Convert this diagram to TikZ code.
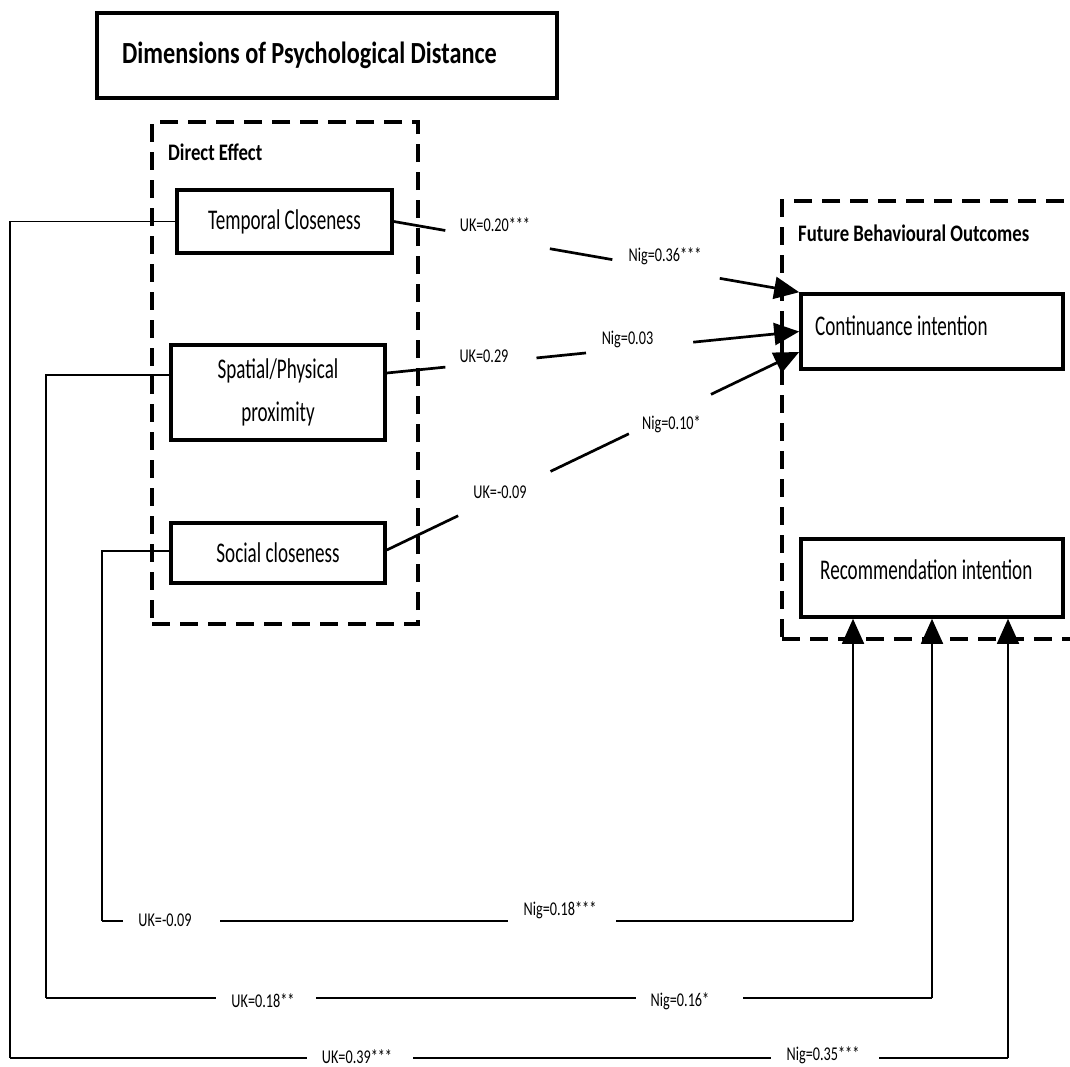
\documentclass[tikz,border=0pt]{standalone}
\usepackage{fontspec}
\setmainfont{Carlito}
\newfontfamily\titlefont[FakeStretch=0.79]{Carlito}
\newfontfamily\boxfont[FakeStretch=0.67]{Carlito}
\newfontfamily\labfont[FakeStretch=0.73]{Carlito}
\usetikzlibrary{arrows.meta,calc}

\begin{document}
\begin{tikzpicture}[x=1pt,y=-1pt,
  boxframe/.style={draw, line width=3.6pt, inner sep=0pt},
  zone/.style={draw, line width=3.2pt, dash pattern=on 18pt off 10pt, inner sep=0pt},
  boxtext/.style={font=\boxfont\fontsize{28.5}{43}\selectfont},
  head/.style={font=\titlefont\bfseries\fontsize{23.7}{28}\selectfont, anchor=base west, inner sep=0pt},
  est/.style={font=\labfont\fontsize{19.5}{22}\selectfont, anchor=base, inner sep=0pt},
  conn/.style={line width=2.7pt},
  wire/.style={line width=1.8pt},
  busline/.style={line width=2.6pt},
  headtip/.style={-{Triangle[length=25pt,width=22pt]}},
]
\useasboundingbox (0,0) rectangle (1070,1066);
\fill[white] (0,0) rectangle (1070,1066);
\clip (0,0) rectangle (1070,1066);

% dashed groupings
\node[zone, minimum width=266pt, minimum height=502pt] (de) at (285,373) {};
\node[zone, minimum width=300pt, minimum height=438pt] (fb) at (932,420) {};

% title
\node[boxframe, minimum width=460pt, minimum height=85pt] (title) at (327,55.5) {};
\node[head, font=\titlefont\bfseries\fontsize{30.7}{36}\selectfont] (tt) at (122,63) {Dimensions of Psychological Distance};

% group headings
\node[head] (deh) at (168,160) {Direct Effect};
\node[head] (fbh) at (798,241.7) {Future Behavioural Outcomes};

% predictors
\node[boxframe, boxtext, minimum width=215pt, minimum height=63pt] (tc) at (284.5,221.5) {Temporal Closeness};
\node[boxframe, boxtext, align=center, minimum width=214pt, minimum height=95pt] (sp) at (278,392.5) {Spatial/Physical\\proximity};
\node[boxframe, boxtext, minimum width=214pt, minimum height=60pt] (sc) at (278,553) {Social closeness};

% outcomes
\node[boxframe, minimum width=262pt, minimum height=75pt] (ci) at (932,331.5) {};
\node[boxtext, anchor=base west, inner sep=0pt] (cit) at (815,335) {Continuance intention};
\node[boxframe, minimum width=262pt, minimum height=78pt] (ri) at (932,578) {};
\node[boxtext, anchor=base west, inner sep=0pt] (rit) at (820,579) {Recommendation intention};

% paths to continuance intention
\coordinate (a1) at (tc.east);
\coordinate (b1) at (ci.north west);
\draw[conn] (a1) -- ($(a1)!0.127!(b1)$);
\draw[conn] ($(a1)!0.385!(b1)$) -- ($(a1)!0.539!(b1)$);
\draw[conn, headtip] ($(a1)!0.804!(b1)$) -- (b1);

\coordinate (a2) at ([yshift=19.5pt]sp.east);
\coordinate (b2) at (ci.west);
\draw[conn] (a2) -- ($(a2)!0.142!(b2)$);
\draw[conn] ($(a2)!0.363!(b2)$) -- ($(a2)!0.483!(b2)$);
\draw[conn, headtip] ($(a2)!0.743!(b2)$) -- (b2);

\coordinate (a3) at ([yshift=3pt]sc.east);
\coordinate (b3) at ([yshift=-20.5pt]ci.west);
\draw[conn] (a3) -- ($(a3)!0.173!(b3)$);
\draw[conn] ($(a3)!0.397!(b3)$) -- ($(a3)!0.587!(b3)$);
\draw[conn, headtip] ($(a3)!0.786!(b3)$) -- (b3);

% paths to recommendation intention
\coordinate (pa) at (102,921);
\coordinate (qa) at (853,921);
\draw[wire] ([yshift=2pt]sc.west) -| (pa);
\draw[busline] (pa) -- (123,921);
\draw[busline] (220,921) -- (508,921);
\draw[busline] (616,921) -- (qa);
\draw[wire, headtip] (qa) -- (qa |- ri.south);

\coordinate (pb) at (46,998);
\coordinate (qb) at (932,998);
\draw[wire] ([yshift=17.5pt]sp.west) -| (pb);
\draw[busline] (pb) -- (216,998);
\draw[busline] (316,998) -- (636,998);
\draw[busline] (743,998) -- (qb);
\draw[wire, headtip] (qb) -- (ri.south);

\coordinate (pc) at (10,1058);
\coordinate (qc) at (1008,1058);
\draw[wire] (tc.west) -| (pc);
\draw[busline] (pc) -- (307,1058);
\draw[busline] (413,1058) -- (771,1058);
\draw[busline] (879,1058) -- (qc);
\draw[wire, headtip] (qc) -- (qc |- ri.south);

% estimates
\node[est] (l1) at (495,231) {UK=0.20***};
\node[est] (l2) at (665,261.5) {Nig=0.36***};
\node[est] (l3) at (484,362) {UK=0.29};
\node[est] (l4) at (627.5,344) {Nig=0.03};
\node[est] (l5) at (500,498) {UK=-0.09};
\node[est] (l6) at (671.5,429) {Nig=0.10*};
\node[est] (l7) at (165,926) {UK=-0.09};
\node[est] (l8) at (560,915) {Nig=0.18***};
\node[est] (l9) at (263,1007) {UK=0.18**};
\node[est] (l10) at (680,1006.5) {Nig=0.16*};
\node[est] (l11) at (357,1063) {UK=0.39***};
\node[est] (l12) at (823,1060) {Nig=0.35***};
\end{tikzpicture}
\end{document}
